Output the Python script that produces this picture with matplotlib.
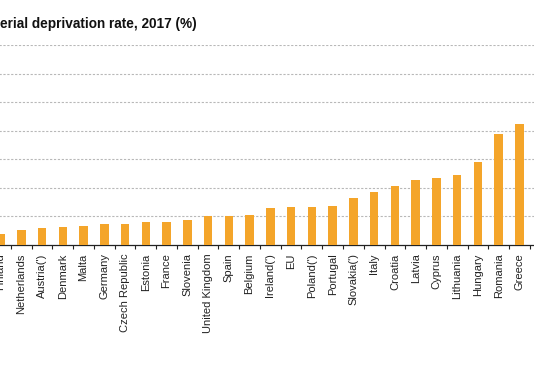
import matplotlib.pyplot as plt
import numpy as np

plt.rcParams['font.family'] = ['Liberation Sans', 'DejaVu Sans']

countries = ['Finland', 'Netherlands', "Austria(')", 'Denmark', 'Malta', 'Germany',
             'Czech Republic', 'Estonia', 'France', 'Slovenia', 'United Kingdom', 'Spain',
             'Belgium', "Ireland(')", 'EU', "Poland(')", 'Portugal', "Slovakia(')", 'Italy',
             'Croatia', 'Latvia', 'Cyprus', 'Lithuania', 'Hungary', 'Romania', 'Greece']
rates = [2.0, 2.6, 3.0, 3.1, 3.4, 3.7, 3.7, 4.1, 4.1, 4.4, 5.0, 5.0,
         5.2, 6.5, 6.7, 6.7, 6.9, 8.2, 9.2, 10.3, 11.3, 11.8, 12.3, 14.5, 19.4, 21.2]
title = 'erial deprivation rate, 2017 (%)'

fig = plt.figure(figsize=(5.34, 3.7), dpi=100)
# axes runs past both edges of the picture (reference is a crop)
ax = fig.add_axes([-0.01835, 0.3378, 1.019, 0.5405])

x = np.arange(len(countries))
ax.bar(x, rates, width=0.41, color='#f4a52a', zorder=3)

ax.set_xlim(-0.5, 25.72)
ax.set_ylim(0, 35)
ax.set_yticks(np.arange(5, 36, 5))
ax.yaxis.grid(True, color='#b8b8b8', linestyle=(0, (2, 1.5)), linewidth=0.8, zorder=0)
ax.tick_params(axis='y', left=False, labelleft=False)

ax.set_xticks(x)
ax.set_xticklabels(countries, rotation=90, fontsize=8, color='#222222')
ax.set_xticks(np.arange(-0.5, 26, 1), minor=True)
ax.tick_params(axis='x', which='major', length=0, pad=6)
ax.tick_params(axis='x', which='minor', length=3, width=0.8, color='#222222', direction='out')

for s in ['top', 'right', 'left']:
    ax.spines[s].set_visible(False)
ax.spines['bottom'].set_color('#222222')
ax.spines['bottom'].set_linewidth(0.9)

fig.text(0.0, 370 - 24, title, transform=None, fontsize=9.8, fontweight='bold',
         va='center', ha='left', color='#111111')
fig.texts[-1].set_transform(fig.dpi_scale_trans)
fig.texts[-1].set_position((0.0, (370 - 24) / 100))

fig.savefig('out.png', dpi=100)
